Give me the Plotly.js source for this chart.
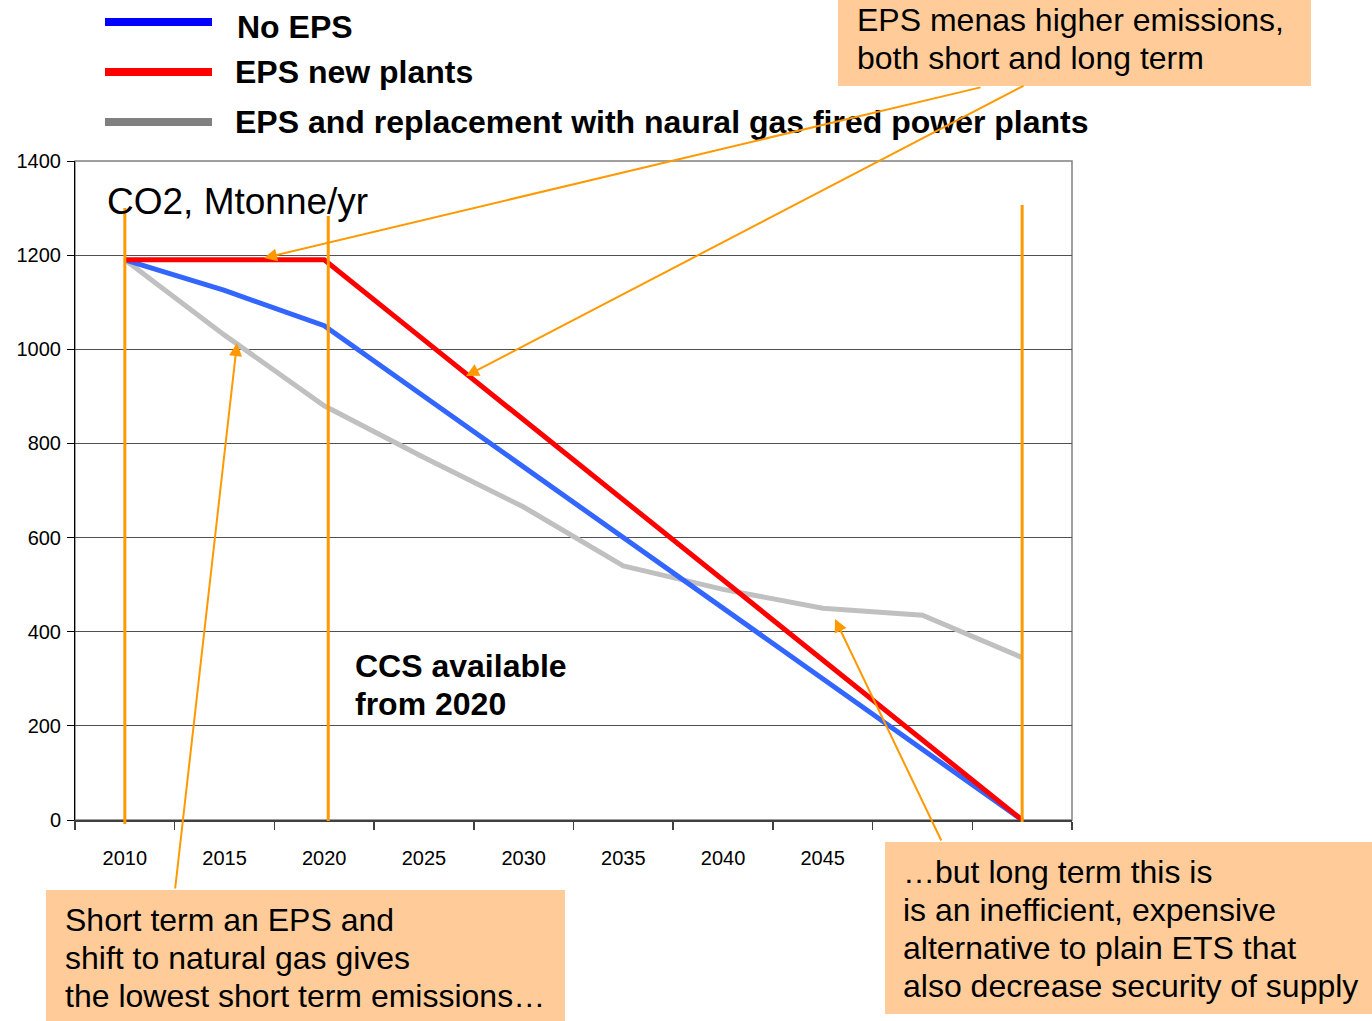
<!DOCTYPE html>
<html><head><meta charset="utf-8">
<script src="https://cdn.plot.ly/plotly-3.0.1.min.js"></script>
<style>html,body{margin:0;padding:0;background:#fff;}#chart{width:1372px;height:1021px;}</style>
</head><body><div id="chart"></div>
<script>
// ---- data ----
const years = ['2010','2015','2020','2025','2030','2035','2040','2045','2050','2055'];
const noEps = [1190,1125,1050,900,750,600,450,300,150,0];
const epsNewPlants = [1190,1190,1190,1020,850,680,510,340,170,0];
const epsGas = [1190,1030,880,770,665,540,490,450,435,345];
const seriesNames = ['No EPS','EPS new plants','EPS and replacement with naural gas fired power plants'];
const yTicks = [0,200,400,600,800,1000,1200,1400];
// the last two year labels are hidden behind the note box in the reference
const xTickText = ['2010','2015','2020','2025','2030','2035','2040','2045','',''];
const unitLabel = 'CO2, Mtonne/yr';
const ccsLabel = ['CCS available','from 2020'];
const noteTop = ['EPS menas higher emissions,','both short and long term'];
const noteLeft = ['Short term an EPS and','shift to natural gas gives','the lowest short term emissions\u2026'];
const noteRight = ['\u2026but long term this is','is an inefficient, expensive','alternative to plain ETS that','also decrease security of supply'];

// ---- layout helpers (pixel -> paper) ----
const L=75, R=1072, T=161, B=820;
const PX = p => (p-L)/(R-L);
const PY = p => (B-p)/(B-T);
const FONT = 'Liberation Sans, Arial, Helvetica, sans-serif';
const ORANGE = '#FF9900';
const PEACH = '#FFCC99';
const TX = -3; // annotation text inset correction

const traces = [
  {x: years, y: epsGas, name: seriesNames[2], mode: 'lines', line: {color: '#C0C0C0', width: 5}},
  {x: years, y: noEps, name: seriesNames[0], mode: 'lines', line: {color: '#3366FF', width: 5}},
  {x: years, y: epsNewPlants, name: seriesNames[1], mode: 'lines', line: {color: '#FF0000', width: 5}}
];

const shapes = [];
const annotations = [];

// plot frame
shapes.push({type:'rect', xref:'paper', yref:'paper', x0:0, x1:1, y0:0, y1:1, line:{color:'#808080', width:1.5}, layer:'below'});

// orange vertical markers
[[0,208,824],[2.04,216,821],[9,205,822]].forEach(v=>{
  shapes.push({type:'line', xref:'x', yref:'paper', x0:v[0], x1:v[0], y0:PY(v[2]), y1:PY(v[1]), line:{color:ORANGE, width:3}, layer:'above'});
});

// legend keys
const legendColors = ['#0000FF','#FF0000','#808080'];
const legendY = [22,72,122];
const legendTextX = [238,236,236];
const legendTextY = [27,72,122];
for (let i=0;i<3;i++){
  shapes.push({type:'line', xref:'paper', yref:'paper', x0:PX(105), x1:PX(212), y0:PY(legendY[i]), y1:PY(legendY[i]), line:{color:legendColors[i], width:8}});
  annotations.push({xref:'paper', yref:'paper', x:PX(legendTextX[i]+TX), y:PY(legendTextY[i]), xanchor:'left', yanchor:'middle', showarrow:false, text:'<b>'+seriesNames[i]+'</b>', font:{family:FONT, size:32, color:'#000'}});
}

// note boxes
function box(x0,y0,x1,y1){ shapes.push({type:'rect', xref:'paper', yref:'paper', x0:PX(x0), x1:PX(x1), y0:PY(y1), y1:PY(y0), fillcolor:PEACH, line:{width:0}, layer:'above'}); }
function lines(arr, x, y0, dy, size, bold){
  arr.forEach((t,i)=>annotations.push({xref:'paper', yref:'paper', x:PX(x+TX), y:PY(y0+i*dy), xanchor:'left', yanchor:'middle', showarrow:false, text: bold?'<b>'+t+'</b>':t, font:{family:FONT, size:size, color:'#000'}}));
}
box(838,-5,1311,86);
box(46,890,565,1030);
box(885,842,1380,1014);
lines(noteTop, 858, 20, 38, 32, false);
lines(noteLeft, 66, 920, 38, 32, false);
lines(noteRight, 904, 872, 38, 32, false);
lines(ccsLabel, 356, 666, 38, 32, true);
lines([unitLabel], 108, 201, 0, 37, false);

// arrows (head, tail) in pixels
const arrows = [[[264,258],[982,87]], [[466,376],[1025,85]], [[237,343],[175,890]], [[835,619],[942,842]]];
arrows.forEach(a=>{
  annotations.push({xref:'paper', yref:'paper', x:PX(a[0][0]), y:PY(a[0][1]), ax:a[1][0]-a[0][0], ay:a[1][1]-a[0][1], text:'', showarrow:true, arrowhead:2, arrowsize:1.3, arrowwidth:2, arrowcolor:ORANGE, standoff:0, startstandoff:0});
});

const layout = {
  width:1372, height:1021,
  margin:{l:L, r:1372-R, t:T, b:1021-B, pad:0},
  paper_bgcolor:'#fff', plot_bgcolor:'#fff',
  showlegend:false,
  font:{family:FONT, color:'#000'},
  xaxis:{type:'category', range:[-0.5,9.5], tickson:'boundaries', ticks:'outside', ticklen:8, tickwidth:1.5, tickcolor:'#404040',
    tickmode:'array', tickvals:years, ticktext:xTickText,
    showline:true, linecolor:'#404040', linewidth:2, showgrid:false, zeroline:false,
    tickfont:{family:FONT, size:20, color:'#000'}, ticklabelstandoff:19, fixedrange:true},
  yaxis:{range:[0,1400], tickvals:yTicks, ticktext:yTicks.map(String), ticks:'outside', ticklen:7, tickcolor:'#000',
    showline:true, linecolor:'#000', linewidth:1, showgrid:true, gridcolor:'#505050', gridwidth:1, zeroline:false,
    tickfont:{family:FONT, size:20, color:'#000'}, ticklabelstandoff:2, fixedrange:true},
  shapes:shapes,
  annotations:annotations
};
Plotly.newPlot('chart', traces, layout, {displayModeBar:false, staticPlot:true});
</script></body></html>
